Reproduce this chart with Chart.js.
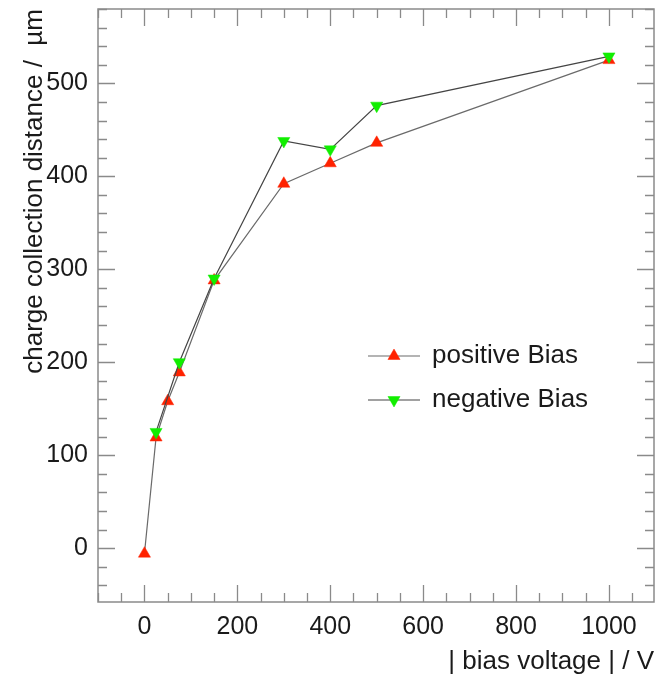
<!DOCTYPE html>
<html>
<head>
<meta charset="utf-8">
<script src="https://cdn.jsdelivr.net/npm/chart.js@4.4.1/dist/chart.umd.min.js"></script>
<style>
html,body{margin:0;padding:0;background:#fff;}
#wrap{width:662px;height:677px;}
</style>
</head>
<body>
<div id="wrap"><canvas id="c" width="662" height="677"></canvas></div>
<script>
// ---- data ----
const posVoltage = [0, 25, 50, 75, 150, 300, 400, 500, 1000];
const posCCD     = [-6, 119, 158, 189, 288, 392, 414, 436, 525];
const negVoltage = [25, 75, 150, 300, 400, 500, 1000];
const negCCD     = [125, 200, 290, 438, 429, 476, 529];
const xTickLabels = [0, 200, 400, 600, 800, 1000];
const yTickLabels = [0, 100, 200, 300, 400, 500];
const xMinorStep = 50, yMinorStep = 20;
const seriesNames = ['positive Bias', 'negative Bias'];

const FONT = "'Liberation Sans', Arial, Helvetica, sans-serif";
const toXY = (xs, ys) => xs.map((x, i) => ({x: x, y: ys[i]}));

const frameTicks = {
  id: 'frameTicks',
  afterDatasetsDraw(chart) {
    const {ctx, chartArea: a, scales: {x, y}} = chart;
    ctx.save();
    ctx.strokeStyle = '#8a8a8a';
    ctx.lineWidth = 1.5;
    ctx.strokeRect(a.left, a.top, a.right - a.left, a.bottom - a.top);
    ctx.lineWidth = 1.3;
    ctx.beginPath();
    for (let v = Math.ceil(x.min / xMinorStep) * xMinorStep; v <= x.max; v += xMinorStep) {
      const px = Math.round(x.getPixelForValue(v)) + 0.5;
      const len = xTickLabels.includes(v) ? 17 : 9;
      ctx.moveTo(px, a.bottom); ctx.lineTo(px, a.bottom - len);
      ctx.moveTo(px, a.top); ctx.lineTo(px, a.top + len);
    }
    for (let v = Math.ceil(y.min / yMinorStep) * yMinorStep; v <= y.max; v += yMinorStep) {
      const py = Math.round(y.getPixelForValue(v)) + 0.5;
      const len = yTickLabels.includes(v) ? 17 : 9;
      ctx.moveTo(a.left, py); ctx.lineTo(a.left + len, py);
      ctx.moveTo(a.right, py); ctx.lineTo(a.right - len, py);
    }
    ctx.stroke();
    ctx.restore();
  }
};

const insideLegend = {
  id: 'insideLegend',
  afterDraw(chart) {
    const {ctx} = chart;
    const rows = [356, 400];
    chart.data.datasets.forEach((ds, i) => {
      const yy = rows[i];
      ctx.save();
      ctx.strokeStyle = ds.borderColor;
      ctx.lineWidth = 1.2;
      ctx.beginPath(); ctx.moveTo(368, yy); ctx.lineTo(420, yy); ctx.stroke();
      ctx.fillStyle = ds.pointBackgroundColor;
      ctx.strokeStyle = ds.pointBackgroundColor;
      ctx.lineWidth = 0.5;
      Chart.helpers.drawPoint(ctx, {
        pointStyle: 'triangle', radius: 7, rotation: ds.pointRotation, borderWidth: 0.5
      }, 394, yy);
      ctx.fillStyle = '#1a1a1a';
      ctx.font = '26px ' + FONT;
      ctx.textBaseline = 'middle';
      ctx.textAlign = 'left';
      ctx.fillText(ds.label, 432, yy);
      ctx.restore();
    });
  }
};

new Chart(document.getElementById('c'), {
  type: 'scatter',
  data: {
    datasets: [
      {
        label: seriesNames[0],
        data: toXY(posVoltage, posCCD),
        showLine: true,
        borderColor: '#6a6a6a',
        borderWidth: 1.2,
        pointStyle: 'triangle',
        pointRadius: 7,
        pointRotation: 0,
        pointBackgroundColor: '#ff2200',
        pointBorderColor: '#ff2200',
        pointBorderWidth: 0.5,
        order: 2
      },
      {
        label: seriesNames[1],
        data: toXY(negVoltage, negCCD),
        showLine: true,
        borderColor: '#444444',
        borderWidth: 1.2,
        pointStyle: 'triangle',
        pointRadius: 7,
        pointRotation: 180,
        pointBackgroundColor: '#11ee00',
        pointBorderColor: '#11ee00',
        pointBorderWidth: 0.5,
        order: 1
      }
    ]
  },
  options: {
    responsive: false,
    animation: false,
    layout: {padding: {left: 0, top: 9, right: 8, bottom: 0}},
    plugins: {legend: {display: false}, tooltip: {enabled: false}},
    scales: {
      x: {
        type: 'linear', min: -100, max: 1097,
        border: {display: false},
        grid: {display: false, drawTicks: false},
        afterBuildTicks: s => { s.ticks = xTickLabels.map(v => ({value: v})); },
        afterFit: s => { s.height = 75; s.paddingLeft = 0; s.paddingRight = 0; },
        ticks: {color: '#1a1a1a', font: {family: FONT, size: 25}, padding: 10, maxRotation: 0,
                callback: v => String(v)},
        title: {display: true, text: '| bias voltage | / V', align: 'end', color: '#1a1a1a',
                font: {family: FONT, size: 26}, padding: {top: 0, bottom: 0}}
      },
      y: {
        type: 'linear', min: -58, max: 580,
        border: {display: false},
        grid: {display: false, drawTicks: false},
        afterBuildTicks: s => { s.ticks = yTickLabels.map(v => ({value: v})); },
        afterFit: s => { s.width = 98; s.paddingTop = 0; s.paddingBottom = 0; },
        ticks: {color: '#1a1a1a', font: {family: FONT, size: 25}, padding: 10,
                callback: v => String(v)},
        title: {display: true, text: 'charge collection distance /  µm', align: 'end', color: '#1a1a1a',
                font: {family: FONT, size: 26}, padding: {top: 19, bottom: 0}}
      }
    }
  },
  plugins: [frameTicks, insideLegend]
});
</script>
</body>
</html>
